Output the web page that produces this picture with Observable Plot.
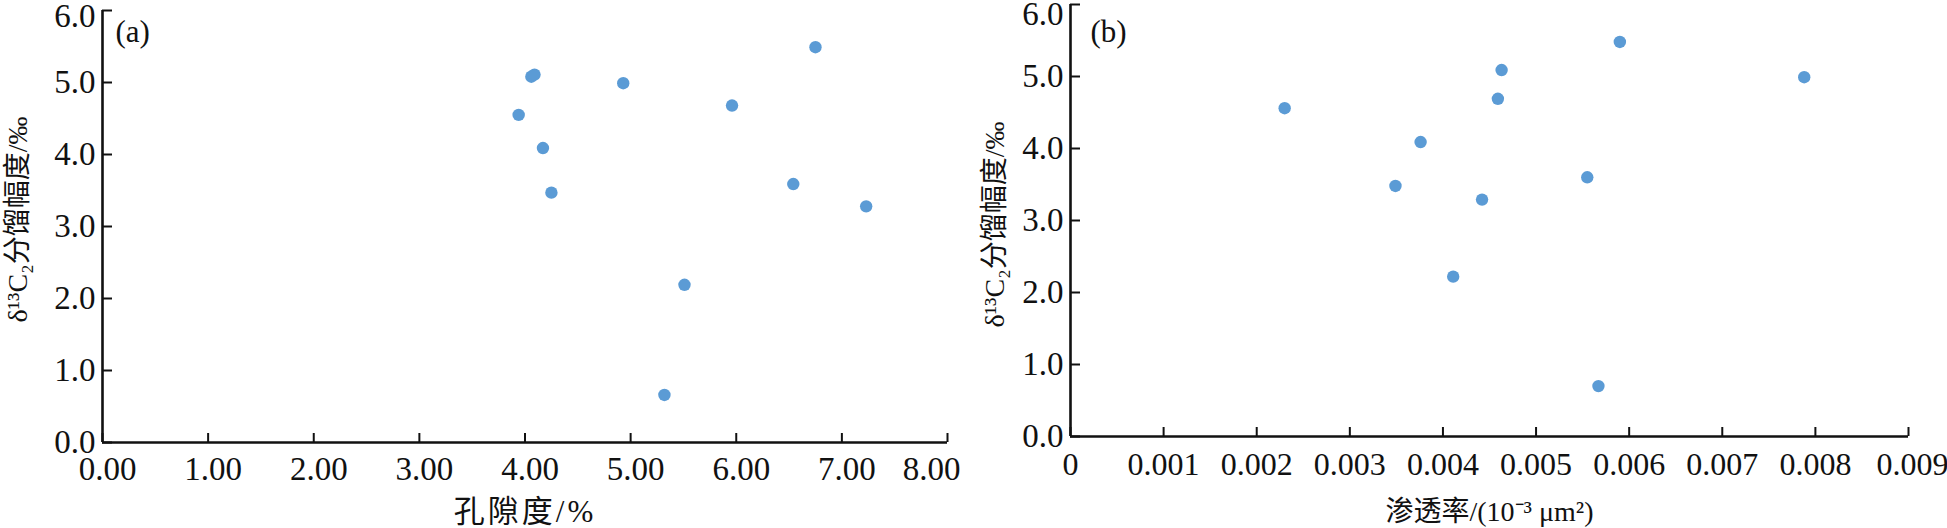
<!DOCTYPE html>
<html><head><meta charset="utf-8">
<script src="https://cdn.jsdelivr.net/npm/d3@7"></script>
<script src="https://cdn.jsdelivr.net/npm/@observablehq/plot@0.6"></script>
<style>
body{margin:0;background:#fff}
#wrap{position:relative;width:1947px;height:528px;overflow:hidden}
#wrap svg{position:absolute;top:0}
</style>
</head><body><div id="wrap"></div>
<script>
// ---- data ----
const porosity = [4.06, 4.09, 4.93, 6.75, 5.96, 3.94, 4.17, 4.25, 6.54, 7.23, 5.51, 5.32];
const fractA   = [5.08, 5.11, 4.99, 5.49, 4.68, 4.55, 4.09, 3.47, 3.59, 3.28, 2.19, 0.66];
const permeability = [0.00230, 0.00376, 0.00349, 0.00411, 0.00590, 0.00463, 0.00459, 0.00788, 0.00555, 0.00442, 0.00567];
const fractB       = [4.56, 4.09, 3.48, 2.22, 5.48, 5.09, 4.69, 4.99, 3.60, 3.29, 0.70];
const yTicks = [0, 1, 2, 3, 4, 5, 6];
const yTickLabels = ["0.0", "1.0", "2.0", "3.0", "4.0", "5.0", "6.0"];
const xTicksA = [0, 1, 2, 3, 4, 5, 6, 7, 8];
const xTickLabelsA = ["0.00", "1.00", "2.00", "3.00", "4.00", "5.00", "6.00", "7.00", "8.00"];
const xTicksB = [0, 0.001, 0.002, 0.003, 0.004, 0.005, 0.006, 0.007, 0.008, 0.009];
const xTickLabelsB = ["0", "0.001", "0.002", "0.003", "0.004", "0.005", "0.006", "0.007", "0.008", "0.009"];
const yLabel = "δ¹³C₂分馏幅度/‰";
const xLabelA = "孔隙度/%";
const xLabelB = "渗透率/(10⁻³ μm²)";
const panelLabelA = "(a)";
const panelLabelB = "(b)";

const FONT = "'Liberation Serif','Times New Roman','Noto Sans CJK SC',serif";
const DOT = "#5B9BD5";

function fmt(ticks, labels) {
  return d => labels[ticks.indexOf(d)];
}

function panel(o) {
  const lastTick = o.xTicks[o.xTicks.length - 1];
  const mainX = o.xTicks.filter(d => d !== lastTick);
  const mainY = yTicks.filter(d => d !== 6);
  const svg = Plot.plot({
    width: o.width, height: 528,
    marginLeft: o.ml, marginRight: o.mr, marginTop: o.mt, marginBottom: o.mb,
    style: {fontFamily: FONT, fontSize: "33px", color: "#111", background: "white", overflow: "visible"},
    x: {domain: [0, lastTick]},
    y: {domain: [0, 6]},
    marks: [
      // axis lines
      Plot.ruleX([0], {stroke: "#111", strokeWidth: 2.6}),
      Plot.ruleY([0], {stroke: "#111", strokeWidth: 2.6}),
      // inward ticks
      Plot.ruleX(o.xTicks, {x: d => d, y1: 0, y2: 0, insetTop: -9, stroke: "#111", strokeWidth: 2}),
      Plot.ruleY(yTicks, {y: d => d, x1: 0, x2: 0, insetRight: -10, stroke: "#111", strokeWidth: 2}),
      // tick labels
      Plot.axisX(mainX, {tickSize: 0, tickPadding: o.xPad, tickFormat: fmt(o.xTicks, o.xLabels), dx: o.xdx, fontSize: o.xTickSize, label: null}),
      Plot.axisX([lastTick], {tickSize: 0, tickPadding: o.xPad, tickFormat: fmt(o.xTicks, o.xLabels), dx: o.xdxLast, fontSize: o.xTickSize, label: null}),
      Plot.axisY(mainY, {tickSize: 0, tickPadding: 7, tickFormat: fmt(yTicks, yTickLabels), fontSize: 33, label: null}),
      Plot.axisY([6], {tickSize: 0, tickPadding: 7, tickFormat: fmt(yTicks, yTickLabels), fontSize: 33, dy: o.topDy, label: null}),
      // axis titles
      Plot.text([o.xLabel], {text: d => d, frameAnchor: "bottom", textAnchor: "middle", lineAnchor: "middle", dy: o.xLabelDy, fontSize: o.xLabelSize}),
      Plot.text([yLabel], {text: d => d, frameAnchor: "left", rotate: -90, textAnchor: "middle", lineAnchor: "middle", dx: o.yLabelDx, dy: o.yLabelDy, fontSize: 28}),
      Plot.text([o.panelLabel], {text: d => d, frameAnchor: "top-left", textAnchor: "start", lineAnchor: "middle", dx: o.pdx, dy: o.pdy, fontSize: 31}),
      // data
      Plot.dot(o.xs.map((x, i) => ({x, y: o.ys[i]})), {x: "x", y: "y", r: 6.2, fill: DOT, stroke: "none"})
    ]
  });
  if (o.xLabelSpacing) {
    svg.querySelectorAll("text").forEach(t => {
      if (t.textContent === o.xLabel) t.style.letterSpacing = o.xLabelSpacing + "px";
    });
  }
  return svg;
}

const a = panel({
  width: 975, ml: 102, mr: 28, mt: 10, mb: 86,
  xTicks: xTicksA, xLabels: xTickLabelsA, xPad: 14, xdx: 5, xdxLast: -16, xTickSize: 33,
  topDy: 6, xLabel: xLabelA, xLabelDy: 70, xLabelSize: 31, xLabelSpacing: 3,
  yLabelDx: -84, yLabelDy: -7,
  panelLabel: panelLabelA, pdx: 13, pdy: 22,
  xs: porosity, ys: fractA
});
const b = panel({
  width: 972, ml: 95, mr: 39, mt: 4, mb: 92,
  xTicks: xTicksB, xLabels: xTickLabelsB, xPad: 16, xdx: 0, xdxLast: 4, xTickSize: 32,
  topDy: 10, xLabel: xLabelB, xLabelDy: 76, xLabelSize: 28, xLabelSpacing: 0,
  yLabelDx: -75, yLabelDy: 4,
  panelLabel: panelLabelB, pdx: 20, pdy: 28,
  xs: permeability, ys: fractB
});
a.style.left = "0px";
b.style.left = "975px";
const wrap = document.getElementById("wrap");
wrap.appendChild(a);
wrap.appendChild(b);
</script>
</body></html>
